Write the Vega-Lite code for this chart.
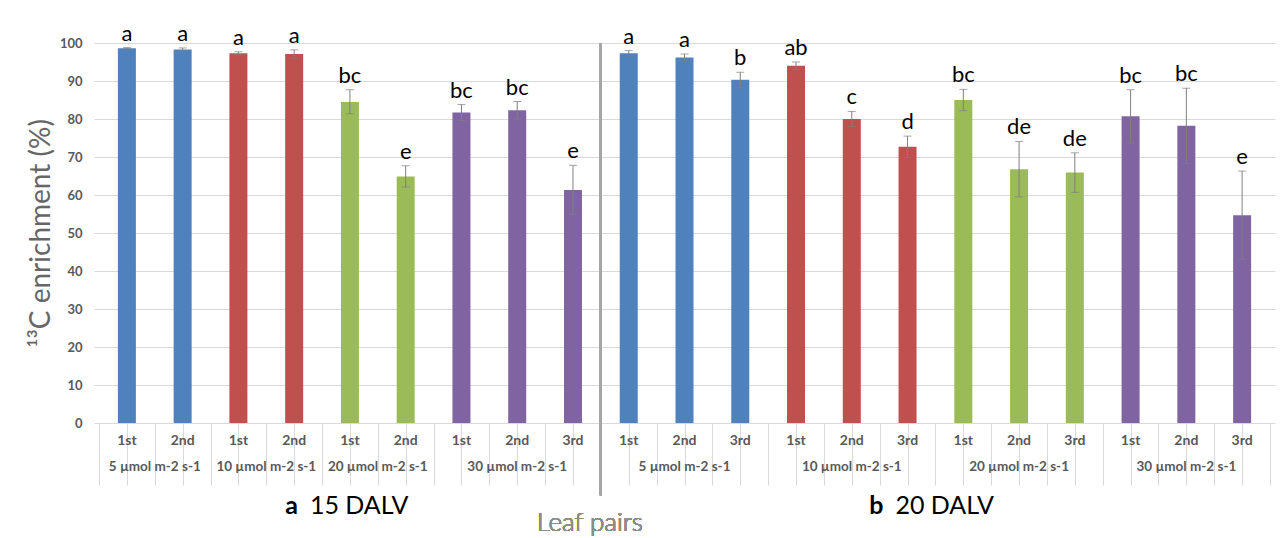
{
  "$schema": "https://vega.github.io/schema/vega-lite/v6.json",
  "width": 1181,
  "height": 380,
  "autosize": {"type": "none"},
  "padding": {"left": 94, "top": 43, "right": 7, "bottom": 115},
  "background": "white",
  "config": {
    "view": {"stroke": null},
    "font": "Lato",
    "axisX": {
      "values": [0.5, 2.5, 4.5, 6.5, 9.5, 12.5, 15.5, 18.5, 21.5],
      "labels": false, "tickSize": 62, "tickColor": "#d9d9d9", "tickWidth": 1,
      "domain": false, "grid": false
    },
    "axisY": {
      "values": [0, 10, 20, 30, 40, 50, 60, 70, 80, 90, 100],
      "grid": true, "gridColor": "#d9d9d9", "domain": false, "ticks": false,
      "labelPadding": 12, "labelFontSize": 13, "labelFontWeight": "bold", "labelColor": "#595959",
      "titleFontSize": 28, "titleFontWeight": "normal", "titleColor": "#666666", "titlePadding": 4
    }
  },
  "data": {
    "values": [
      {"idx": 1, "panel": "a", "stage": "15 DALV", "group": "5 µmol m-2 s-1", "pair": "1st", "value": 98.6, "lo": 98.4, "hi": 98.8, "letter": "a"},
      {"idx": 2, "panel": "a", "stage": "15 DALV", "group": "5 µmol m-2 s-1", "pair": "2nd", "value": 98.3, "lo": 97.9, "hi": 98.7, "letter": "a"},
      {"idx": 3, "panel": "a", "stage": "15 DALV", "group": "10 µmol m-2 s-1", "pair": "1st", "value": 97.3, "lo": 96.9, "hi": 97.7, "letter": "a"},
      {"idx": 4, "panel": "a", "stage": "15 DALV", "group": "10 µmol m-2 s-1", "pair": "2nd", "value": 97.1, "lo": 96.0, "hi": 98.2, "letter": "a"},
      {"idx": 5, "panel": "a", "stage": "15 DALV", "group": "20 µmol m-2 s-1", "pair": "1st", "value": 84.5, "lo": 81.4, "hi": 87.7, "letter": "bc"},
      {"idx": 6, "panel": "a", "stage": "15 DALV", "group": "20 µmol m-2 s-1", "pair": "2nd", "value": 64.9, "lo": 62.1, "hi": 67.7, "letter": "e"},
      {"idx": 7, "panel": "a", "stage": "15 DALV", "group": "30 µmol m-2 s-1", "pair": "1st", "value": 81.7, "lo": 79.6, "hi": 83.8, "letter": "bc"},
      {"idx": 8, "panel": "a", "stage": "15 DALV", "group": "30 µmol m-2 s-1", "pair": "2nd", "value": 82.3, "lo": 80.0, "hi": 84.6, "letter": "bc"},
      {"idx": 9, "panel": "a", "stage": "15 DALV", "group": "30 µmol m-2 s-1", "pair": "3rd", "value": 61.3, "lo": 54.9, "hi": 67.8, "letter": "e"},
      {"idx": 10, "panel": "b", "stage": "20 DALV", "group": "5 µmol m-2 s-1", "pair": "1st", "value": 97.3, "lo": 96.6, "hi": 98.0, "letter": "a"},
      {"idx": 11, "panel": "b", "stage": "20 DALV", "group": "5 µmol m-2 s-1", "pair": "2nd", "value": 96.2, "lo": 95.3, "hi": 97.1, "letter": "a"},
      {"idx": 12, "panel": "b", "stage": "20 DALV", "group": "5 µmol m-2 s-1", "pair": "3rd", "value": 90.3, "lo": 88.3, "hi": 92.3, "letter": "b"},
      {"idx": 13, "panel": "b", "stage": "20 DALV", "group": "10 µmol m-2 s-1", "pair": "1st", "value": 94.0, "lo": 93.0, "hi": 95.0, "letter": "ab"},
      {"idx": 14, "panel": "b", "stage": "20 DALV", "group": "10 µmol m-2 s-1", "pair": "2nd", "value": 80.0, "lo": 78.0, "hi": 82.0, "letter": "c"},
      {"idx": 15, "panel": "b", "stage": "20 DALV", "group": "10 µmol m-2 s-1", "pair": "3rd", "value": 72.7, "lo": 69.9, "hi": 75.5, "letter": "d"},
      {"idx": 16, "panel": "b", "stage": "20 DALV", "group": "20 µmol m-2 s-1", "pair": "1st", "value": 85.0, "lo": 82.2, "hi": 87.8, "letter": "bc"},
      {"idx": 17, "panel": "b", "stage": "20 DALV", "group": "20 µmol m-2 s-1", "pair": "2nd", "value": 66.8, "lo": 59.5, "hi": 74.1, "letter": "de"},
      {"idx": 18, "panel": "b", "stage": "20 DALV", "group": "20 µmol m-2 s-1", "pair": "3rd", "value": 65.9, "lo": 60.7, "hi": 71.1, "letter": "de"},
      {"idx": 19, "panel": "b", "stage": "20 DALV", "group": "30 µmol m-2 s-1", "pair": "1st", "value": 80.7, "lo": 73.7, "hi": 87.7, "letter": "bc"},
      {"idx": 20, "panel": "b", "stage": "20 DALV", "group": "30 µmol m-2 s-1", "pair": "2nd", "value": 78.2, "lo": 68.3, "hi": 88.1, "letter": "bc"},
      {"idx": 21, "panel": "b", "stage": "20 DALV", "group": "30 µmol m-2 s-1", "pair": "3rd", "value": 54.7, "lo": 43.1, "hi": 66.3, "letter": "e"}
    ]
  },
  "layer": [
    {
      "mark": {"type": "bar", "size": 18},
      "encoding": {
        "x": {
          "field": "idx", "type": "quantitative", "title": null,
          "scale": {"domain": [0.5, 21.5], "nice": false, "zero": false}
        },
        "y": {
          "field": "value", "type": "quantitative", "title": "¹³C enrichment (%)",
          "scale": {"domain": [0, 100], "nice": false}
        },
        "color": {
          "field": "group", "type": "nominal",
          "scale": {
            "domain": ["5 µmol m-2 s-1", "10 µmol m-2 s-1", "20 µmol m-2 s-1", "30 µmol m-2 s-1"],
            "range": ["#4F81BD", "#C0504D", "#9BBB59", "#8064A2"]
          },
          "legend": null
        }
      }
    },
    {
      "mark": {"type": "errorbar", "ticks": {"size": 8}, "color": "#7f7f7f", "thickness": 1},
      "encoding": {
        "x": {"field": "idx", "type": "quantitative", "title": null},
        "y": {"field": "lo", "type": "quantitative", "title": "¹³C enrichment (%)"},
        "y2": {"field": "hi"}
      }
    },
    {
      "mark": {"type": "text", "fontSize": 22, "color": "#000000", "baseline": "alphabetic", "dy": -7},
      "encoding": {
        "x": {"field": "idx", "type": "quantitative", "title": null},
        "y": {"field": "hi", "type": "quantitative", "title": "¹³C enrichment (%)"},
        "text": {"field": "letter"}
      }
    },
    {
      "mark": {"type": "text", "fontSize": 14, "fontWeight": "bold", "color": "#595959", "baseline": "middle", "dy": 18},
      "encoding": {
        "x": {"field": "idx", "type": "quantitative", "title": null},
        "y": {"datum": 0, "type": "quantitative", "title": "¹³C enrichment (%)"},
        "text": {"field": "pair"}
      }
    },
    {
      "transform": [{"aggregate": [{"op": "mean", "field": "idx", "as": "center"}], "groupby": ["panel", "group"]}],
      "mark": {"type": "text", "fontSize": 13.5, "fontWeight": "bold", "color": "#595959", "baseline": "middle", "dy": 44},
      "encoding": {
        "x": {"field": "center", "type": "quantitative", "title": null},
        "y": {"datum": 0, "type": "quantitative", "title": "¹³C enrichment (%)"},
        "text": {"field": "group"}
      }
    },
    {
      "transform": [{"aggregate": [{"op": "mean", "field": "idx", "as": "center"}], "groupby": ["panel", "stage"]}],
      "mark": {"type": "text", "fontSize": 25, "fontWeight": "bold", "color": "#000000", "baseline": "middle", "align": "right", "dy": 83, "dx": -52},
      "encoding": {
        "x": {"field": "center", "type": "quantitative", "title": null},
        "y": {"datum": 0, "type": "quantitative", "title": "¹³C enrichment (%)"},
        "text": {"field": "panel"}
      }
    },
    {
      "transform": [{"aggregate": [{"op": "mean", "field": "idx", "as": "center"}], "groupby": ["panel", "stage"]}],
      "mark": {"type": "text", "fontSize": 25, "color": "#000000", "baseline": "middle", "align": "left", "dy": 83, "dx": -40},
      "encoding": {
        "x": {"field": "center", "type": "quantitative", "title": null},
        "y": {"datum": 0, "type": "quantitative", "title": "¹³C enrichment (%)"},
        "text": {"field": "stage"}
      }
    },
    {
      "mark": {"type": "rule", "color": "#a6a6a6", "strokeWidth": 2},
      "encoding": {
        "x": {"datum": 9.5, "type": "quantitative", "title": null},
        "y": {"datum": 100, "type": "quantitative", "title": "¹³C enrichment (%)"},
        "y2": {"datum": -19}
      }
    },
    {
      "mark": {"type": "text", "fontSize": 26, "fontWeight": 300, "color": "#8c8c8c", "baseline": "middle", "dy": 100},
      "encoding": {
        "x": {"datum": 9.3, "type": "quantitative", "title": null},
        "y": {"datum": 0, "type": "quantitative", "title": "¹³C enrichment (%)"},
        "text": {"value": "Leaf pairs"}
      }
    }
  ]
}
